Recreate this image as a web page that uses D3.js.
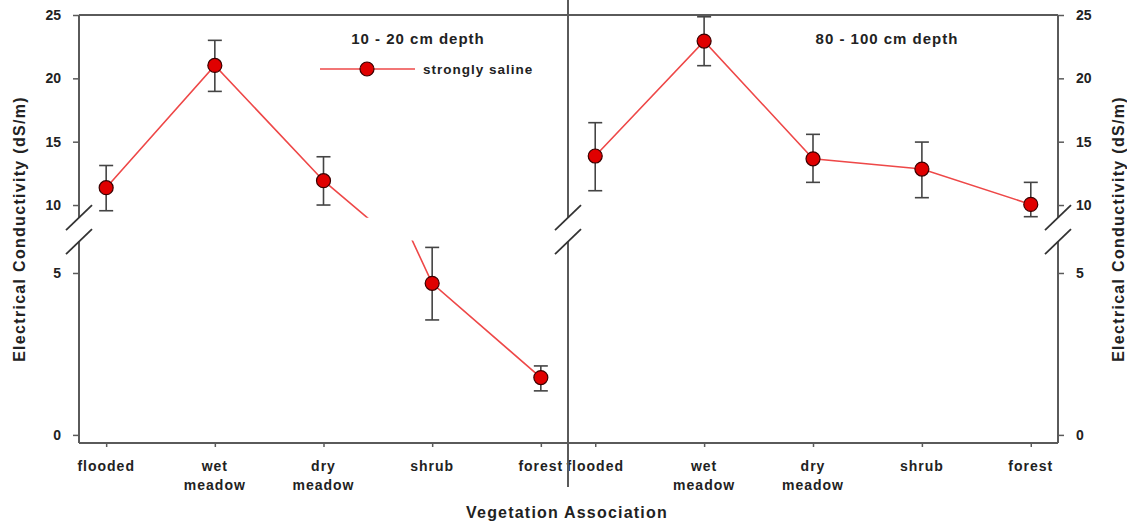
<!DOCTYPE html>
<html lang="en">
<head>
<meta charset="UTF-8">
<title>Electrical Conductivity by Vegetation Association</title>
<script src="https://d3js.org/d3.v7.min.js"></script>
<style>
  body { margin: 0; background: #fff; }
  text { font-family: "Liberation Sans", Arial, sans-serif; font-weight: bold; fill: #222; }
</style>
</head>
<body>
<svg id="chart" width="1127" height="523"></svg>
<script>
// categories on both panels
const categories = ["flooded", "wet meadow", "dry meadow", "shrub", "forest"];

// 10 - 20 cm depth (mean, upper and lower error bar ends)
const shallowMean  = [11.37, 21.02, 11.92, 4.68, 1.77];
const shallowUpper = [13.12, 23.00, 13.81, 5.79, 2.13];
const shallowLower = [9.55, 18.97, 10.00, 3.55, 1.36];

// 80 - 100 cm depth
const deepMean  = [13.87, 22.94, 13.65, 12.84, 10.05];
const deepUpper = [16.50, 24.86, 15.58, 14.97, 11.79];
const deepLower = [11.13, 21.00, 11.79, 10.58, 9.08];

const upperTicks = [10, 15, 20, 25];
const lowerTicks = [0, 5];
const seriesName = "strongly saline";

const svg = d3.select("#chart");
const axisColor = "#5a5a5a";

// broken y axis: two linear pieces
const yHi = d3.scaleLinear().domain([9, 25]).range([217.7, 15]);
const yLo = d3.scaleLinear().domain([-0.25, 6]).range([443, 240.6]);
const breakHi = yHi(9), breakLo = yLo(6), yTop = yHi(25), yBot = yLo(-0.25);

const panels = [
  { x0: 79, x1: 568, title: "10 - 20 cm depth", tx: 418, mean: shallowMean, up: shallowUpper, lo: shallowLower },
  { x0: 568, x1: 1058, title: "80 - 100 cm depth", tx: 887, mean: deepMean, up: deepUpper, lo: deepLower }
];

const defs = svg.append("defs");

panels.forEach((p, pi) => {
  const x = d3.scalePoint().domain(categories).range([p.x0, p.x1]).padding(0.25);
  const g = svg.append("g");

  // clips for each segment of the broken axis
  defs.append("clipPath").attr("id", "hi" + pi).append("rect")
    .attr("x", p.x0).attr("y", 0).attr("width", p.x1 - p.x0).attr("height", breakHi);
  defs.append("clipPath").attr("id", "lo" + pi).append("rect")
    .attr("x", p.x0).attr("y", breakLo).attr("width", p.x1 - p.x0).attr("height", yBot - breakLo + 10);

  const rows = categories.map((c, i) => ({ c, m: p.mean[i], u: p.up[i], l: p.lo[i] }));
  const ys = d => (d.m >= 9 ? yHi : yLo);

  // connecting line, drawn once per segment and clipped
  [["hi", yHi], ["lo", yLo]].forEach(([k, s]) => {
    g.append("path")
      .datum(rows)
      .attr("clip-path", `url(#${k}${pi})`)
      .attr("fill", "none")
      .attr("stroke", "#ee4848")
      .attr("stroke-width", 1.6)
      .attr("d", d3.line().x(d => x(d.c)).y(d => s(d.m)));
  });

  // error bars
  const eb = g.selectAll(".eb").data(rows).join("g").attr("class", "eb")
    .attr("stroke", "#444").attr("stroke-width", 1.6);
  eb.append("line")
    .attr("x1", d => x(d.c)).attr("x2", d => x(d.c))
    .attr("y1", d => ys(d)(d.u)).attr("y2", d => ys(d)(d.l));
  ["u", "l"].forEach(k => {
    eb.append("line")
      .attr("x1", d => x(d.c) - 7).attr("x2", d => x(d.c) + 7)
      .attr("y1", d => ys(d)(d[k])).attr("y2", d => ys(d)(d[k]));
  });

  // markers
  g.selectAll(".pt").data(rows).join("circle").attr("class", "pt")
    .attr("cx", d => x(d.c)).attr("cy", d => ys(d)(d.m))
    .attr("r", 7).attr("fill", "#e00000").attr("stroke", "#3a0000").attr("stroke-width", 1.2);

  // x axis
  const xa = svg.append("g").attr("transform", `translate(0,${yBot})`)
    .call(d3.axisBottom(x).tickSize(4).tickFormat(""));
  xa.select(".domain").remove();
  xa.selectAll(".tick line").attr("stroke", axisColor).attr("stroke-width", 1.5);
  svg.append("line").attr("x1", p.x0).attr("x2", p.x1).attr("y1", yBot).attr("y2", yBot)
    .attr("stroke", axisColor).attr("stroke-width", 2);

  const lab = svg.selectAll(null).data(categories).join("text")
    .attr("text-anchor", "middle").attr("font-size", 14).attr("letter-spacing", 1)
    .attr("transform", d => `translate(${x(d)},471)`);
  lab.selectAll("tspan").data(d => d.split(" ")).join("tspan")
    .attr("x", 0).attr("dy", (d, i) => (i === 0 ? 0 : 19)).text(d => d);

  // panel title
  svg.append("text").attr("x", p.tx).attr("y", 44).attr("text-anchor", "middle")
    .attr("font-size", 15).attr("letter-spacing", 1).text(p.title);
});

// top border
svg.append("line").attr("x1", 79).attr("x2", 1058).attr("y1", yTop).attr("y2", yTop)
  .attr("stroke", axisColor).attr("stroke-width", 2);

// vertical axis lines with breaks
function axisLine(xp, y1, y2) {
  svg.append("line").attr("x1", xp).attr("x2", xp).attr("y1", y1).attr("y2", y2)
    .attr("stroke", axisColor).attr("stroke-width", 2);
}
[79, 1058].forEach(xp => { axisLine(xp, yTop, breakHi); axisLine(xp, breakLo + 1, yBot); });
axisLine(568, 0, breakHi);
axisLine(568, breakLo + 1, 487);

// break marks
[79, 568, 1058].forEach(xp => {
  [breakHi, breakLo + 1].forEach(yb => {
    svg.append("line").attr("x1", xp - 13).attr("y1", yb + 12.5).attr("x2", xp + 13).attr("y2", yb - 12.5)
      .attr("stroke", "#333").attr("stroke-width", 1.8);
  });
});

// y tick labels
function yAxis(gen, scale, ticks, xp) {
  const a = svg.append("g").attr("transform", `translate(${xp},0)`)
    .call(gen(scale).tickValues(ticks).tickSize(6).tickPadding(12).tickFormat(d3.format("d")));
  a.select(".domain").remove();
  a.selectAll(".tick line").attr("stroke", axisColor).attr("stroke-width", 1.5);
  a.selectAll(".tick text").attr("font-size", 14).attr("fill", "#222")
    .style("font-family", "'Liberation Sans', Arial, sans-serif").style("font-weight", "bold");
}
yAxis(d3.axisLeft, yHi, upperTicks, 79);
yAxis(d3.axisLeft, yLo, lowerTicks, 79);
yAxis(d3.axisRight, yHi, upperTicks, 1058);
yAxis(d3.axisRight, yLo, lowerTicks, 1058);

// axis titles
const yTitle = "Electrical Conductivity (dS/m)";
svg.append("text").attr("transform", "translate(25,229) rotate(-90)").attr("text-anchor", "middle")
  .attr("font-size", 16).attr("letter-spacing", 1.3).text(yTitle);
svg.append("text").attr("transform", "translate(1124,229) rotate(-90)").attr("text-anchor", "middle")
  .attr("font-size", 16).attr("letter-spacing", 1.3).text(yTitle);
svg.append("text").attr("x", 567).attr("y", 518).attr("text-anchor", "middle")
  .attr("font-size", 16).attr("letter-spacing", 1.2).text("Vegetation Association");

// legend
const legend = svg.append("g").attr("transform", "translate(320,69)");
legend.append("line").attr("x1", 0).attr("x2", 95).attr("stroke", "#ee4848").attr("stroke-width", 1.6);
legend.append("circle").attr("cx", 47).attr("r", 7).attr("fill", "#e00000").attr("stroke", "#3a0000").attr("stroke-width", 1.2);
legend.append("text").attr("x", 103).attr("y", 5).attr("font-size", 13.5).attr("letter-spacing", 1).text(seriesName);
</script>
</body>
</html>
